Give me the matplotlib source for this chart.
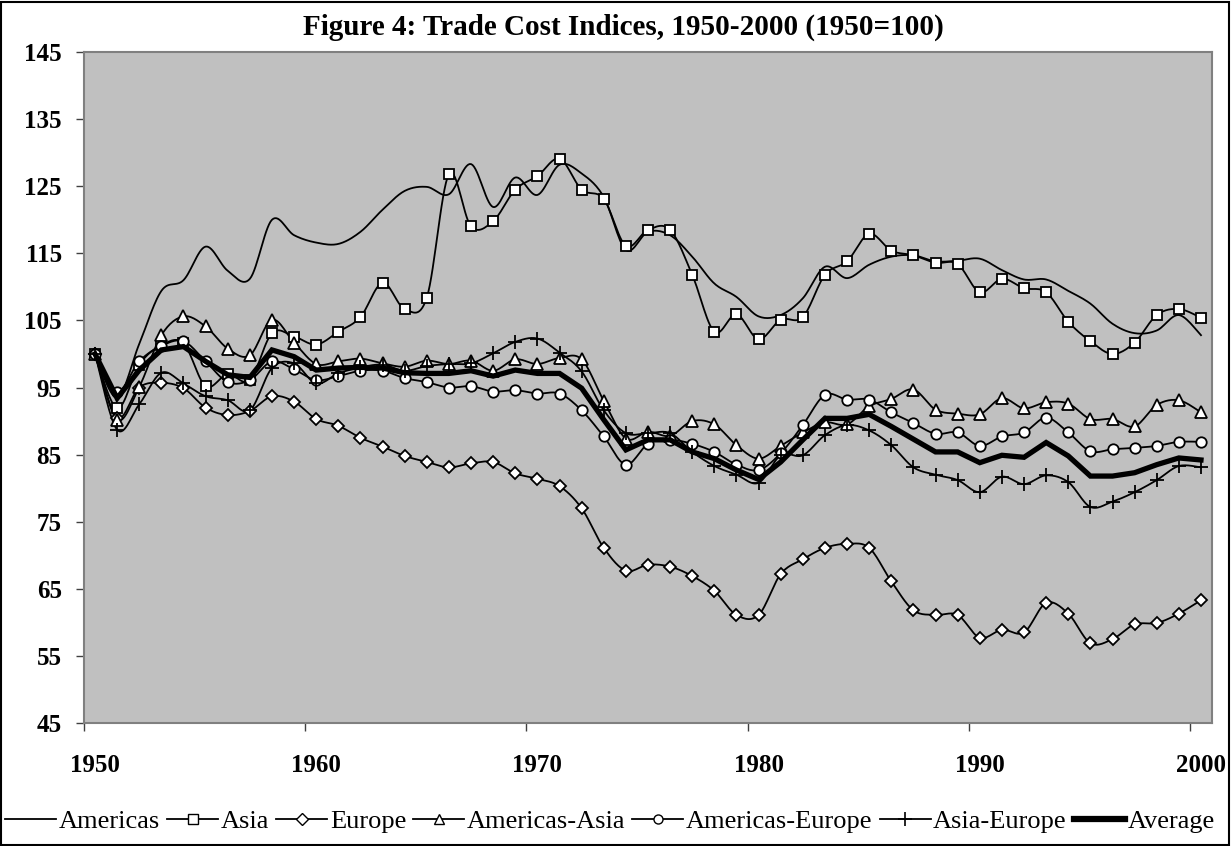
import numpy as np
import matplotlib
matplotlib.use('Agg')
import matplotlib.pyplot as plt
from matplotlib.lines import Line2D
from matplotlib.patches import Rectangle

plt.rcParams['font.family'] = ['Liberation Serif', 'DejaVu Serif']

years = list(range(1950, 2001))

americas = [100, 93.5, 101.5, 109.4, 111.0, 116.0, 112.4, 111.2, 120.0, 117.7,
            116.6, 116.4, 118.2, 121.5, 124.3, 124.9, 123.8, 128.3, 121.9, 126.3,
            123.7, 128.2, 126.9, 123.4, 115.5, 118.2, 117.7, 114.5, 110.5, 108.5,
            105.6, 105.8, 108.3, 113.0, 111.3, 113.3, 114.5, 114.7, 113.8, 113.9,
            114.2, 112.5, 111.1, 111.1, 109.4, 107.5, 104.5, 103.1, 103.5, 105.8,
            102.8]
asia = [100, 91.9, 98.4, 101.3, 101.6, 95.2, 97.0, 96.1, 103.1, 102.6,
        101.4, 103.3, 105.5, 110.6, 106.7, 108.4, 126.8, 119.0, 119.8, 124.5,
        126.5, 129.1, 124.5, 123.1, 116.1, 118.5, 118.5, 111.8, 103.3, 105.9,
        102.2, 105.1, 105.5, 111.8, 113.8, 117.9, 115.4, 114.7, 113.6, 113.4,
        109.2, 111.2, 109.8, 109.2, 104.8, 101.9, 100.0, 101.7, 105.8, 106.7,
        105.4]
europe = [100, 90.5, 95.0, 95.7, 94.9, 92.0, 90.9, 91.5, 93.7, 92.9,
          90.3, 89.3, 87.5, 86.2, 84.8, 83.9, 83.1, 83.7, 83.9, 82.2,
          81.4, 80.3, 77.0, 71.1, 67.7, 68.6, 68.3, 66.9, 64.7, 61.1,
          61.1, 67.2, 69.4, 71.1, 71.7, 71.1, 66.1, 61.8, 61.1, 61.1,
          57.7, 58.9, 58.5, 62.9, 61.3, 56.9, 57.5, 59.7, 59.9, 61.3,
          63.3]
americas_asia = [100, 90.2, 95.1, 102.8, 105.6, 104.1, 100.8, 99.8, 105.1, 101.7,
                 98.5, 98.9, 99.3, 98.6, 98.1, 99.0, 98.5, 99.0, 97.5, 99.2,
                 98.5, 99.4, 99.2, 93.0, 87.4, 88.4, 87.8, 90.0, 89.5, 86.4,
                 84.4, 86.3, 88.3, 89.8, 89.5, 92.2, 93.3, 94.7, 91.7, 91.1,
                 91.0, 93.4, 91.9, 92.8, 92.6, 90.3, 90.3, 89.2, 92.4, 93.1,
                 91.3]
americas_europe = [100, 94.4, 98.9, 101.2, 101.9, 98.9, 95.8, 96.1, 98.9, 97.7,
                   96.1, 96.7, 97.5, 97.5, 96.4, 95.8, 95.0, 95.2, 94.4, 94.6,
                   94.1, 94.1, 91.6, 87.7, 83.5, 86.6, 87.2, 86.6, 85.4, 83.5,
                   82.7, 85.2, 89.4, 93.9, 93.2, 93.2, 91.3, 89.7, 88.1, 88.3,
                   86.3, 87.7, 88.3, 90.5, 88.3, 85.5, 85.8, 86.0, 86.3, 86.9,
                   86.9]
asia_europe = [100, 88.7, 92.5, 97.2, 95.6, 93.7, 93.1, 91.6, 97.9, 98.6,
               95.6, 97.1, 98.0, 98.4, 97.5, 98.2, 98.5, 98.6, 100.1, 101.8,
               102.3, 100.2, 97.4, 91.6, 88.2, 88.2, 88.2, 85.4, 83.3, 82.0,
               80.8, 84.9, 84.9, 87.9, 89.4, 88.6, 86.4, 83.1, 82.0, 81.2,
               79.4, 81.7, 80.6, 81.9, 80.9, 77.2, 78.0, 79.4, 81.2, 83.3,
               83.1]
average = [100, 93.4, 97.6, 100.6, 101.1, 98.9, 96.9, 96.5, 100.6, 99.6,
           97.6, 97.9, 98.0, 97.9, 97.2, 97.1, 97.1, 97.5, 96.7, 97.6,
           97.1, 97.1, 94.9, 90.2, 85.7, 87.2, 87.2, 85.4, 84.4, 82.7,
           81.3, 83.9, 87.2, 90.4, 90.4, 91.0, 89.2, 87.3, 85.4, 85.4,
           83.8, 84.9, 84.6, 86.8, 84.8, 81.8, 81.8, 82.3, 83.5, 84.5,
           84.2]

labels = ['Americas', 'Asia', 'Europe', 'Americas-Asia', 'Americas-Europe',
          'Asia-Europe', 'Average']


def smooth_curve(x, y, n=16):
    # Excel-style smoothed line (bezier through the points)
    x = np.asarray(x, float)
    y = np.asarray(y, float)
    p = np.column_stack([x, y])
    out = []
    t = np.linspace(0, 1, n)[:, None]
    for i in range(len(p) - 1):
        p0 = p[max(i - 1, 0)]
        p1 = p[i]
        p2 = p[i + 1]
        p3 = p[min(i + 2, len(p) - 1)]
        c1 = p1 + (p2 - p0) / 6
        c2 = p2 - (p3 - p1) / 6
        seg = ((1 - t) ** 3) * p1 + 3 * ((1 - t) ** 2) * t * c1 + 3 * (1 - t) * t ** 2 * c2 + t ** 3 * p2
        out.append(seg if i == 0 else seg[1:])
    out = np.vstack(out)
    return out[:, 0], out[:, 1]


fig = plt.figure(figsize=(12.31, 8.46), dpi=100)
ax = fig.add_axes([0.0682, 0.1454, 0.9164, 0.7931])
ax.set_facecolor('#C0C0C0')

styles = [
    (americas, None, 7),
    (asia, 's', 7.5),
    (europe, 'D', 6),
    (americas_asia, '^', 8),
    (americas_europe, 'o', 7.5),
    (asia_europe, '+', 10),
]

for data, marker, ms in styles:
    sx, sy = smooth_curve(years, data)
    ax.plot(sx, sy, color='black', lw=1.3, zorder=3)
    if marker is not None:
        if marker == '+':
            ax.plot(years, data, ls='none', marker='+', ms=ms, mew=1.3,
                    color='black', zorder=4)
        else:
            ax.plot(years, data, ls='none', marker=marker, ms=ms, mew=1.3,
                    mfc='white', mec='black', zorder=4)

ax.plot(years, average, color='black', lw=3.8, zorder=5, solid_joinstyle='miter')

ax.set_xlim(1949.5, 2000.5)
ax.set_ylim(45, 145)
ax.set_yticks(range(45, 146, 10))
ax.set_xticks(range(1950, 2001, 10))
ax.set_xticks(np.arange(1949.5, 2000, 10), minor=True)
ax.tick_params(axis='x', which='major', length=0, pad=22, labelsize=18)
ax.tick_params(axis='x', which='minor', length=6, width=1, color='#404040')
ax.tick_params(axis='y', which='major', length=6, width=1, color='#404040', labelsize=18, pad=10)
for lab in ax.get_xticklabels() + ax.get_yticklabels():
    lab.set_fontweight('bold')
for s in ax.spines.values():
    s.set_color('#808080')
    s.set_linewidth(1.5)

fig.text(0.506, 0.968, 'Figure 4: Trade Cost Indices, 1950-2000 (1950=100)',
         ha='center', va='center', fontsize=21, fontweight='bold')

handles = [Line2D([], [], color='black', lw=1.3)]
for data, marker, ms in styles[1:]:
    if marker == '+':
        handles.append(Line2D([], [], color='black', lw=1.3, marker='+', ms=10, mew=1.2))
    else:
        handles.append(Line2D([], [], color='black', lw=1.3, marker=marker, ms=6.5,
                              mfc='white', mec='black', mew=1.0))
handles.append(Line2D([], [], color='black', lw=4.5))

fig.legend(handles, labels, loc='center', bbox_to_anchor=(0.4955, 0.029), ncol=7,
           frameon=False, fontsize=19, handlelength=1.93, handletextpad=0.1,
           columnspacing=0.27, borderaxespad=0)

fig.patches.append(Rectangle((0.001, 0.001), 0.997, 0.997, transform=fig.transFigure,
                             fill=False, edgecolor='black', lw=1.5))

fig.savefig('out.png', dpi=100)
